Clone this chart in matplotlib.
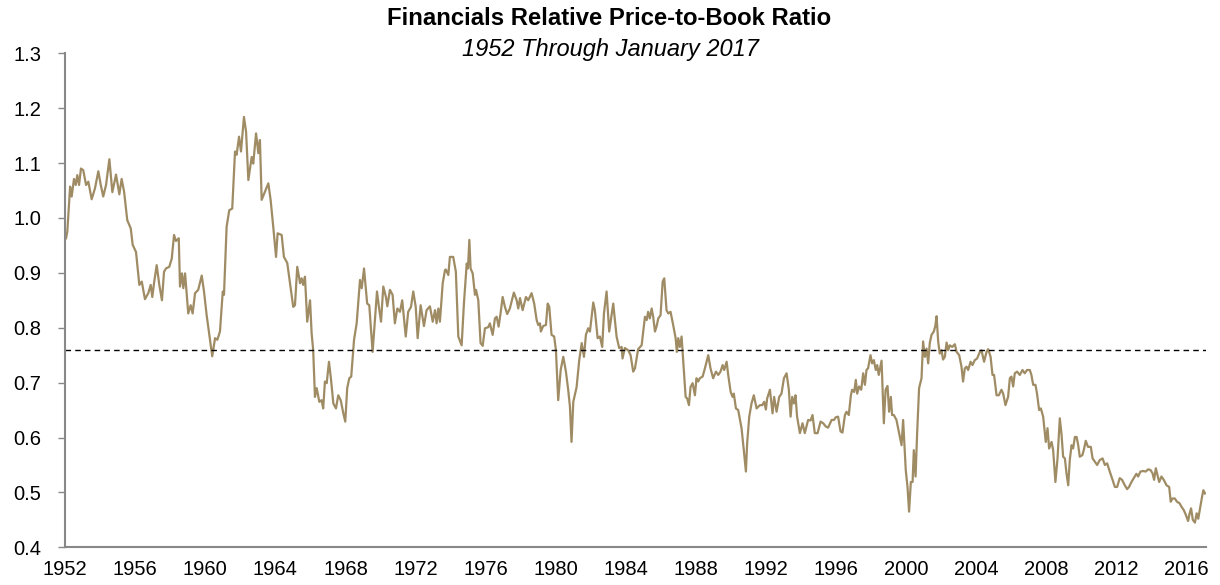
import matplotlib
matplotlib.use("Agg")
import matplotlib.pyplot as plt
import numpy as np

# Financials relative P/B
years = [
    1952.06, 1952.13, 1952.29, 1952.38, 1952.51, 1952.61, 1952.70, 1952.80, 1952.91, 1953.04,
    1953.20, 1953.33, 1953.52, 1953.71, 1953.90, 1954.04, 1954.18, 1954.34, 1954.53, 1954.70,
    1954.91, 1955.10, 1955.23, 1955.37, 1955.55, 1955.75, 1955.86, 1956.05, 1956.24, 1956.38,
    1956.56, 1956.75, 1956.89, 1956.98, 1957.09, 1957.23, 1957.38, 1957.53, 1957.65, 1957.76,
    1957.95, 1958.09, 1958.22, 1958.33, 1958.49, 1958.56, 1958.67, 1958.75, 1958.85, 1959.03,
    1959.17, 1959.28, 1959.42, 1959.60, 1959.80, 1959.93, 1960.08, 1960.27, 1960.40, 1960.56,
    1960.69, 1960.84, 1961.00, 1961.07, 1961.22, 1961.37, 1961.54, 1961.70, 1961.79, 1961.93,
    1962.04, 1962.21, 1962.33, 1962.46, 1962.65, 1962.74, 1962.90, 1963.03, 1963.12, 1963.22,
    1963.41, 1963.60, 1963.73, 1963.88, 1964.04, 1964.13, 1964.36, 1964.49, 1964.68, 1964.84,
    1965.02, 1965.12, 1965.25, 1965.41, 1965.50, 1965.59, 1965.69, 1965.82, 1965.98, 1966.07,
    1966.16, 1966.26, 1966.36, 1966.51, 1966.64, 1966.73, 1966.83, 1966.93, 1967.06, 1967.17,
    1967.31, 1967.46, 1967.59, 1967.73, 1967.88, 1967.99, 1968.10, 1968.22, 1968.33, 1968.49,
    1968.64, 1968.83, 1968.93, 1969.06, 1969.24, 1969.36, 1969.55, 1969.68, 1969.80, 1969.91,
    1970.03, 1970.16, 1970.31, 1970.39, 1970.54, 1970.69, 1970.82, 1970.96, 1971.11, 1971.24,
    1971.44, 1971.58, 1971.74, 1971.87, 1972.01, 1972.12, 1972.29, 1972.48, 1972.63, 1972.82,
    1972.98, 1973.11, 1973.20, 1973.30, 1973.39, 1973.55, 1973.68, 1973.73, 1973.87, 1973.96,
    1974.15, 1974.30, 1974.44, 1974.63, 1974.76, 1974.92, 1974.99, 1975.07, 1975.14, 1975.26,
    1975.39, 1975.45, 1975.58, 1975.71, 1975.83, 1975.96, 1976.15, 1976.24, 1976.40, 1976.53,
    1976.63, 1976.74, 1976.85, 1976.97, 1977.10, 1977.23, 1977.38, 1977.61, 1977.77, 1977.86,
    1977.96, 1978.11, 1978.30, 1978.43, 1978.62, 1978.77, 1978.91, 1979.00, 1979.10, 1979.15,
    1979.28, 1979.44, 1979.54, 1979.63, 1979.76, 1979.91, 1980.01, 1980.14, 1980.28, 1980.43,
    1980.58, 1980.71, 1980.81, 1980.90, 1981.00, 1981.19, 1981.34, 1981.48, 1981.61, 1981.72,
    1981.85, 1981.95, 1982.14, 1982.23, 1982.39, 1982.52, 1982.65, 1982.75, 1982.90, 1983.05,
    1983.28, 1983.47, 1983.62, 1983.76, 1983.81, 1983.94, 1984.13, 1984.27, 1984.42, 1984.52,
    1984.70, 1984.90, 1985.09, 1985.19, 1985.27, 1985.37, 1985.47, 1985.56, 1985.66, 1985.75,
    1985.85, 1985.98, 1986.10, 1986.19, 1986.32, 1986.42, 1986.55, 1986.70, 1986.84, 1986.91,
    1986.99, 1987.08, 1987.18, 1987.27, 1987.41, 1987.50, 1987.60, 1987.69, 1987.81, 1987.94,
    1988.03, 1988.13, 1988.22, 1988.38, 1988.51, 1988.70, 1988.83, 1988.98, 1989.14, 1989.27,
    1989.40, 1989.52, 1989.61, 1989.75, 1989.84, 1989.98, 1990.09, 1990.16, 1990.28, 1990.41,
    1990.60, 1990.73, 1990.85, 1990.92, 1991.04, 1991.17, 1991.30, 1991.46, 1991.65, 1991.78,
    1991.89, 1991.99, 1992.06, 1992.22, 1992.37, 1992.46, 1992.60, 1992.75, 1992.88, 1993.02,
    1993.17, 1993.30, 1993.40, 1993.49, 1993.59, 1993.68, 1993.77, 1993.93, 1994.08, 1994.21,
    1994.40, 1994.54, 1994.65, 1994.78, 1994.94, 1995.11, 1995.26, 1995.41, 1995.54, 1995.74,
    1995.87, 1995.98, 1996.11, 1996.25, 1996.36, 1996.50, 1996.59, 1996.72, 1996.84, 1996.91,
    1997.03, 1997.12, 1997.20, 1997.31, 1997.43, 1997.54, 1997.64, 1997.73, 1997.82, 1997.96,
    1998.05, 1998.15, 1998.26, 1998.34, 1998.43, 1998.59, 1998.72, 1998.82, 1998.93, 1999.02,
    1999.12, 1999.19, 1999.29, 1999.44, 1999.59, 1999.73, 1999.82, 1999.97, 2000.07, 2000.16,
    2000.26, 2000.36, 2000.43, 2000.53, 2000.62, 2000.73, 2000.87, 2000.96, 2001.06, 2001.16,
    2001.25, 2001.34, 2001.44, 2001.57, 2001.65, 2001.73, 2001.82, 2001.91, 2002.01, 2002.10,
    2002.20, 2002.30, 2002.39, 2002.48, 2002.62, 2002.77, 2002.87, 2003.02, 2003.15, 2003.24,
    2003.34, 2003.44, 2003.53, 2003.67, 2003.78, 2003.91, 2004.04, 2004.20, 2004.29, 2004.44,
    2004.58, 2004.67, 2004.81, 2004.92, 2005.01, 2005.15, 2005.28, 2005.43, 2005.53, 2005.66,
    2005.81, 2005.91, 2006.00, 2006.10, 2006.19, 2006.32, 2006.48, 2006.63, 2006.76, 2006.89,
    2007.05, 2007.14, 2007.24, 2007.37, 2007.46, 2007.58, 2007.68, 2007.81, 2007.96, 2008.06,
    2008.15, 2008.29, 2008.38, 2008.51, 2008.63, 2008.76, 2008.86, 2008.95, 2009.05, 2009.14,
    2009.24, 2009.33, 2009.43, 2009.52, 2009.62, 2009.72, 2009.81, 2009.90, 2010.05, 2010.15,
    2010.24, 2010.37, 2010.53, 2010.63, 2010.76, 2010.89, 2011.04, 2011.20, 2011.33, 2011.46,
    2011.61, 2011.77, 2011.90, 2012.03, 2012.18, 2012.31, 2012.47, 2012.60, 2012.71, 2012.85,
    2012.98, 2013.13, 2013.23, 2013.36, 2013.51, 2013.66, 2013.80, 2013.93, 2014.05, 2014.14,
    2014.24, 2014.33, 2014.43, 2014.56, 2014.69, 2014.85, 2015.00, 2015.09, 2015.19, 2015.32,
    2015.45, 2015.60, 2015.70, 2015.83, 2015.94, 2016.08, 2016.17, 2016.25, 2016.35, 2016.47,
    2016.57, 2016.66, 2016.76, 2016.86, 2016.95, 2017.05,
]
ratio = [
    0.963, 0.975, 1.057, 1.039, 1.071, 1.060, 1.078, 1.060, 1.090, 1.087,
    1.060, 1.066, 1.034, 1.054, 1.085, 1.060, 1.039, 1.060, 1.107, 1.047,
    1.079, 1.043, 1.071, 1.048, 0.996, 0.981, 0.951, 0.938, 0.878, 0.884,
    0.852, 0.863, 0.878, 0.856, 0.884, 0.914, 0.878, 0.850, 0.902, 0.908,
    0.911, 0.926, 0.969, 0.958, 0.963, 0.875, 0.899, 0.872, 0.899, 0.826,
    0.841, 0.826, 0.863, 0.869, 0.895, 0.866, 0.823, 0.778, 0.748, 0.781,
    0.778, 0.793, 0.866, 0.860, 0.984, 1.014, 1.017, 1.121, 1.115, 1.148,
    1.121, 1.184, 1.157, 1.069, 1.111, 1.099, 1.154, 1.118, 1.142, 1.033,
    1.048, 1.063, 1.033, 0.984, 0.929, 0.972, 0.969, 0.929, 0.918, 0.881,
    0.838, 0.841, 0.911, 0.881, 0.890, 0.878, 0.893, 0.811, 0.850, 0.790,
    0.759, 0.674, 0.690, 0.665, 0.668, 0.653, 0.702, 0.699, 0.738, 0.708,
    0.662, 0.653, 0.677, 0.668, 0.644, 0.629, 0.690, 0.708, 0.711, 0.778,
    0.808, 0.887, 0.872, 0.908, 0.844, 0.841, 0.756, 0.814, 0.866, 0.838,
    0.811, 0.875, 0.856, 0.839, 0.869, 0.860, 0.808, 0.835, 0.829, 0.850,
    0.784, 0.829, 0.838, 0.866, 0.838, 0.781, 0.841, 0.803, 0.832, 0.839,
    0.811, 0.832, 0.808, 0.835, 0.811, 0.881, 0.905, 0.906, 0.896, 0.929,
    0.929, 0.902, 0.784, 0.768, 0.844, 0.917, 0.908, 0.960, 0.908, 0.899,
    0.860, 0.869, 0.850, 0.772, 0.767, 0.799, 0.801, 0.808, 0.787, 0.817,
    0.820, 0.802, 0.826, 0.856, 0.838, 0.825, 0.835, 0.864, 0.850, 0.835,
    0.854, 0.832, 0.856, 0.850, 0.863, 0.844, 0.814, 0.805, 0.808, 0.793,
    0.803, 0.805, 0.844, 0.838, 0.787, 0.784, 0.759, 0.668, 0.723, 0.747,
    0.720, 0.687, 0.656, 0.592, 0.665, 0.692, 0.741, 0.772, 0.747, 0.787,
    0.799, 0.793, 0.846, 0.832, 0.781, 0.784, 0.765, 0.826, 0.866, 0.793,
    0.844, 0.784, 0.763, 0.765, 0.744, 0.763, 0.759, 0.750, 0.720, 0.726,
    0.761, 0.768, 0.820, 0.814, 0.829, 0.817, 0.835, 0.820, 0.793, 0.802,
    0.817, 0.823, 0.884, 0.890, 0.832, 0.826, 0.829, 0.805, 0.781, 0.756,
    0.781, 0.765, 0.784, 0.741, 0.674, 0.671, 0.659, 0.692, 0.699, 0.677,
    0.708, 0.702, 0.708, 0.711, 0.726, 0.750, 0.726, 0.708, 0.720, 0.714,
    0.720, 0.732, 0.723, 0.738, 0.714, 0.683, 0.674, 0.680, 0.653, 0.650,
    0.617, 0.577, 0.538, 0.589, 0.638, 0.662, 0.677, 0.653, 0.659, 0.659,
    0.665, 0.651, 0.671, 0.687, 0.644, 0.674, 0.647, 0.674, 0.680, 0.708,
    0.717, 0.687, 0.638, 0.674, 0.662, 0.677, 0.638, 0.608, 0.626, 0.608,
    0.632, 0.631, 0.641, 0.608, 0.608, 0.629, 0.626, 0.620, 0.618, 0.632,
    0.632, 0.637, 0.638, 0.611, 0.609, 0.641, 0.647, 0.641, 0.677, 0.687,
    0.683, 0.705, 0.680, 0.693, 0.687, 0.717, 0.696, 0.723, 0.726, 0.750,
    0.735, 0.741, 0.723, 0.732, 0.714, 0.740, 0.626, 0.687, 0.694, 0.647,
    0.674, 0.641, 0.641, 0.632, 0.608, 0.586, 0.632, 0.541, 0.510, 0.465,
    0.519, 0.519, 0.577, 0.529, 0.608, 0.690, 0.708, 0.775, 0.747, 0.762,
    0.735, 0.772, 0.787, 0.793, 0.802, 0.821, 0.775, 0.753, 0.759, 0.742,
    0.747, 0.773, 0.759, 0.768, 0.765, 0.770, 0.756, 0.750, 0.729, 0.702,
    0.726, 0.729, 0.723, 0.738, 0.732, 0.741, 0.744, 0.756, 0.759, 0.738,
    0.756, 0.761, 0.747, 0.714, 0.714, 0.677, 0.677, 0.687, 0.680, 0.659,
    0.674, 0.708, 0.711, 0.693, 0.717, 0.720, 0.714, 0.723, 0.717, 0.723,
    0.723, 0.714, 0.696, 0.696, 0.680, 0.650, 0.653, 0.638, 0.592, 0.617,
    0.580, 0.592, 0.577, 0.519, 0.562, 0.635, 0.605, 0.565, 0.562, 0.535,
    0.513, 0.559, 0.586, 0.580, 0.601, 0.601, 0.586, 0.565, 0.568, 0.580,
    0.594, 0.583, 0.583, 0.562, 0.556, 0.550, 0.559, 0.562, 0.550, 0.553,
    0.538, 0.523, 0.510, 0.510, 0.526, 0.523, 0.513, 0.506, 0.510, 0.519,
    0.526, 0.534, 0.529, 0.538, 0.539, 0.538, 0.542, 0.541, 0.535, 0.523,
    0.544, 0.532, 0.519, 0.529, 0.523, 0.513, 0.510, 0.483, 0.489, 0.489,
    0.483, 0.480, 0.474, 0.468, 0.460, 0.448, 0.462, 0.471, 0.450, 0.445,
    0.462, 0.452, 0.471, 0.489, 0.504, 0.498,
]
average = 0.76
year_ticks = list(range(1952, 2017, 4))
value_ticks = [0.4, 0.5, 0.6, 0.7, 0.8, 0.9, 1.0, 1.1, 1.2, 1.3]

plt.rcParams['font.family'] = ['Liberation Sans', 'DejaVu Sans']

fig = plt.figure(figsize=(12.2, 5.85), dpi=100)
ax = fig.add_axes([0.0533, 0.0644, 0.9352, 0.8446])

ax.plot(years, ratio, color='#9F8C64', lw=1.6)
ax.axhline(average, color='black', lw=1, ls=(0, (4, 3)))

ax.set_xlim(1952, 2017.1)
ax.set_ylim(0.4, 1.3)
ax.set_xticks(year_ticks)
ax.set_xticklabels([str(y) for y in year_ticks])
ax.set_yticks(value_ticks)
ax.set_yticklabels([f'{v:.1f}' for v in value_ticks])

for side in ['top', 'right']:
    ax.spines[side].set_visible(False)
for side in ['left', 'bottom']:
    ax.spines[side].set_color('#888888')
    ax.spines[side].set_linewidth(1.5)

ax.tick_params(axis='x', length=0, pad=9, labelsize=14.5)
ax.tick_params(axis='y', length=5, width=1, color='#888888', pad=12, labelsize=14.5)

fig.text(0.499, 0.968, 'Financials Relative Price-to-Book Ratio', ha='center', va='center',
         fontsize=17.2, fontweight='bold')
fig.text(0.5, 0.916, '1952 Through January 2017', ha='center', va='center',
         fontsize=17, style='italic')

fig.savefig('out.png', dpi=100)
